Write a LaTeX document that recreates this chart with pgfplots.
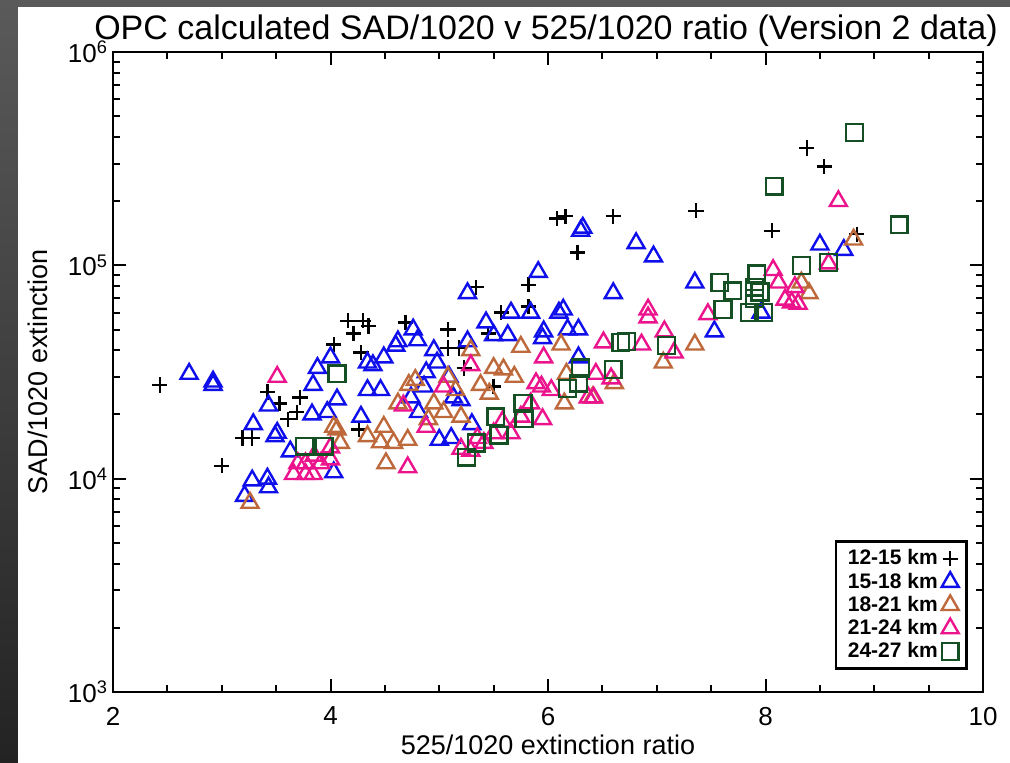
\documentclass[border=0pt]{standalone}
\usepackage{pgfplots}
\pgfplotsset{compat=1.18}
\usepackage{fontspec}
\setmainfont{Liberation Sans}

\definecolor{c1215}{RGB}{0,0,0}
\definecolor{c1518}{RGB}{15,15,235}
\definecolor{c1821}{RGB}{190,105,60}
\definecolor{c2124}{RGB}{235,20,140}
\definecolor{c2427}{RGB}{20,80,35}

\begin{document}
\begin{tikzpicture}
\useasboundingbox (0,0) rectangle (505pt,381.5pt);
\shade[top color={rgb,255:red,90;green,90;blue,90}, bottom color={rgb,255:red,35;green,35;blue,35}] (0,0) rectangle (505pt,381.5pt);
\fill[white] (9pt,0) rectangle (505pt,378pt);

\node[font=\fontsize{17}{20}\selectfont] at (273pt,366pt) {OPC calculated SAD/1020 v 525/1020 ratio (Version 2 data)};

\begin{axis}[
    at={(56.5pt,35.5pt)}, anchor=south west,
    scale only axis, width=435pt, height=320pt,
    xmin=2, xmax=10,
    ymode=log, ymin=1000, ymax=1000000,
    xtick={2,4,6,8,10},
    minor x tick num=3,
    ytick={1000,10000,100000,1000000},
    yticklabels={10\textsuperscript{3},10\textsuperscript{4},10\textsuperscript{5},10\textsuperscript{6}},
    tick align=inside,
    xtick pos=both, ytick pos=both,
    major tick length=6.5pt, minor tick length=3.5pt,
    every tick/.style={black, line width=1pt},
    axis line style={line width=1.3pt},
    /pgf/number format/assume math mode=true,
    tick label style={font=\fontsize{13}{15}\selectfont},
    xticklabel style={yshift=-4pt},
    yticklabel style={xshift=1pt},
    xlabel={525/1020 extinction ratio},
    ylabel={SAD/1020 extinction},
    label style={font=\fontsize{13.5}{16}\selectfont},
    xlabel style={at={(rel axis cs:0.5,0)}, yshift=-26.5pt, anchor=center},
    ylabel style={at={(rel axis cs:0,0.5)}, yshift=37.5pt, anchor=center},
    legend plot pos=right,
    legend cell align=right,
    legend style={at={(rel axis cs:1,0)}, anchor=south east, xshift=-7.5pt, yshift=11pt,
        draw=black, line width=1.3pt, font=\bfseries\fontsize{10.5}{11}\selectfont,
        inner xsep=4pt, inner ysep=2pt, row sep=-1.5pt},
]

% 12-15 km
\addplot[only marks, mark=+, mark size=3.8pt, c1215, line width=1.2pt] coordinates {
(2.43,27500)(3.00,11500)(3.19,15500)(3.28,15500)(3.42,25500)(3.53,22500)
(3.61,19000)(3.69,20500)(3.72,24000)(4.03,42500)(4.16,55000)(4.30,55000)
(4.21,48000)(4.35,52000)(4.28,39000)(4.26,17000)(4.69,54000)(5.08,50000)
(5.08,41000)(5.18,41000)(5.23,33000)(5.34,79000)(5.45,48000)(5.50,27000)
(5.57,60000)(5.82,81000)(5.82,64000)(6.08,166000)(6.16,170000)(6.27,115000)
(6.60,170000)(7.36,180000)(8.38,355000)(8.54,290000)(8.06,145000)(8.84,140000)
};
\addlegendentry{12-15 km}

% 15-18 km
\addplot[only marks, mark=triangle, mark size=4.9pt, c1518, mark options={line width=1.2pt}] coordinates {
(2.70,31000)(2.92,28500)(2.92,27500)(3.21,8300)(3.28,9800)(3.29,18000)
(3.42,10000)(3.43,9100)(3.43,22000)(3.49,15800)(3.51,16400)(3.63,13400)
(3.84,27500)(3.88,33000)(3.83,20000)(3.97,20500)(4.00,37000)(4.03,10700)
(4.06,23500)(4.34,35000)(4.34,26000)(4.28,19500)(4.39,34000)(4.46,26000)
(4.49,37000)(4.62,44000)(4.60,42000)(4.76,50000)(4.80,44500)(4.74,24000)
(4.81,20500)(4.86,27000)(4.88,31500)(4.95,40000)(4.98,35000)(5.09,30000)
(5.13,24000)(5.20,23300)(5.11,15500)(5.00,15200)(5.26,44000)(5.26,74000)
(5.43,54000)(5.50,47000)(5.63,47000)(5.66,60000)(5.84,60000)(5.95,45500)
(5.91,93000)(5.96,49000)(6.10,60000)(6.14,62000)(6.18,50000)(6.28,50000)
(6.28,37000)(6.30,145000)(6.32,150000)(6.60,74000)(6.81,127000)(6.97,110000)
(7.35,83000)(7.53,49000)(7.96,60000)(8.50,125000)(8.72,118000)(5.30,18000)
};
\addlegendentry{15-18 km}

% 18-21 km
\addplot[only marks, mark=triangle, mark size=4.9pt, c1821, mark options={line width=1.2pt}] coordinates {
(3.26,7700)(4.03,17500)(4.06,17000)(4.09,14700)(4.34,15800)(4.49,17500)
(4.51,11800)(4.46,14800)(4.58,14700)(4.62,22500)(4.71,15200)(4.72,27500)
(4.78,29000)(4.95,22500)(5.04,20500)(5.08,30000)(5.20,19500)(5.29,40000)
(5.38,27500)(5.46,25000)(5.50,33000)(5.59,32500)(5.69,30000)(5.75,41500)
(6.12,42500)(6.15,22500)(6.17,31000)(6.41,24000)(6.61,28000)(7.06,35000)
(7.35,42500)(8.33,83000)(8.40,74000)(8.81,132000)(4.90,19000)(5.15,26000)
};
\addlegendentry{18-21 km}

% 21-24 km
\addplot[only marks, mark=triangle, mark size=4.9pt, c2124, mark options={line width=1.2pt}] coordinates {
(3.51,30000)(3.66,10500)(3.70,11800)(3.77,11800)(3.77,10500)(3.84,10500)
(3.91,11800)(4.00,12300)(4.00,14000)(3.85,12800)(4.67,22000)(4.71,11300)
(4.88,17500)(5.04,27000)(5.29,34000)(5.29,13500)(5.20,13800)(5.41,14700)
(5.50,16300)(5.66,16300)(5.75,19500)(5.84,22500)(5.94,27000)(5.96,37000)
(5.89,28000)(5.95,19000)(6.03,26000)(6.37,24000)(6.42,24000)(6.44,31000)
(6.58,29500)(6.51,43500)(6.86,42500)(6.92,62000)(6.92,57000)(7.07,49000)
(7.16,39000)(7.47,59000)(8.07,95000)(8.12,83000)(8.18,69000)(8.24,67000)
(8.27,79000)(8.30,66000)(8.58,102000)(8.67,200000)(5.58,18500)(5.35,15500)
};
\addlegendentry{21-24 km}

% 24-27 km
\addplot[only marks, mark=square, mark size=4.2pt, c2427, mark options={line width=1.2pt}] coordinates {
(3.76,14200)(3.94,14200)(4.06,31000)(5.25,12600)(5.34,14700)(5.52,19500)
(5.55,16000)(5.77,22500)(5.78,19100)(6.18,26500)(6.28,28000)(6.30,33000)
(6.60,32500)(6.67,43500)(6.72,44000)(7.09,42000)(7.58,83000)(7.70,76000)
(7.61,62000)(7.92,91000)(7.90,79000)(7.90,70000)(7.85,60000)(7.98,60000)
(7.95,75000)(8.33,100000)(8.58,103000)(8.08,235000)(8.82,420000)(9.23,155000)
};
\addlegendentry{24-27 km}

\end{axis}
\end{tikzpicture}
\end{document}
